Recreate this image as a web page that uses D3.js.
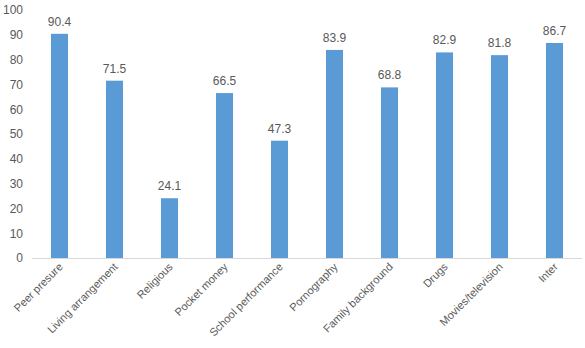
<!DOCTYPE html>
<html>
<head>
<meta charset="utf-8">
<script src="https://cdn.jsdelivr.net/npm/d3@7"></script>
<style>
  body { margin: 0; background: #fff; }
  svg { display: block; }
  text { font-family: "Liberation Sans", "Open Sans", sans-serif; fill: #595959; }
</style>
</head>
<body>
<svg id="chart" width="585" height="348"></svg>
<script>
const categories = ["Peer presure", "Living arrangement", "Religious", "Pocket money",
  "School performance", "Pornography", "Family background", "Drugs",
  "Movies/television", "Inter"];
const values = [90.4, 71.5, 24.1, 66.5, 47.3, 83.9, 68.8, 82.9, 81.8, 86.7];
const yTicks = [0, 10, 20, 30, 40, 50, 60, 70, 80, 90, 100];

const svg = d3.select("#chart");
const plot = { left: 32, right: 582, top: 10, bottom: 258 };

const x = d3.scaleBand().domain(categories).range([plot.left, plot.right])
  .paddingInner(0.69).paddingOuter(0.345);
const y = d3.scaleLinear().domain([0, 100]).range([plot.bottom, plot.top]);

// value axis: labels only
const yAxis = svg.append("g")
  .attr("transform", `translate(${plot.left - 9},0)`)
  .call(d3.axisLeft(y).tickValues(yTicks).tickSize(0).tickPadding(0));
yAxis.select(".domain").remove();
yAxis.selectAll("text").attr("font-size", 12).attr("fill", "#595959");

// bars
svg.append("g").selectAll("rect").data(values).join("rect")
  .attr("x", (d, i) => x(categories[i]))
  .attr("width", x.bandwidth())
  .attr("y", d => y(d))
  .attr("height", d => y(0) - y(d))
  .attr("fill", "#5B9BD5");

// data labels
svg.append("g").selectAll("text").data(values).join("text")
  .attr("x", (d, i) => x(categories[i]) + x.bandwidth() / 2)
  .attr("y", d => y(d) - 8)
  .attr("text-anchor", "middle")
  .attr("font-size", 12)
  .text(d => d.toFixed(1));

// category axis
const xAxis = svg.append("g")
  .attr("transform", `translate(0,${plot.bottom + 0.5})`)
  .call(d3.axisBottom(x).tickSize(0).tickPadding(0));
xAxis.select(".domain").attr("stroke", "#d9d9d9").attr("d", `M${plot.left},0H${plot.right}`);
xAxis.selectAll(".tick text")
  .attr("font-size", 11)
  .attr("fill", "#595959")
  .attr("text-anchor", "end")
  .attr("dy", 0)
  .attr("transform", "translate(4,9) rotate(-45)");
</script>
</body>
</html>
